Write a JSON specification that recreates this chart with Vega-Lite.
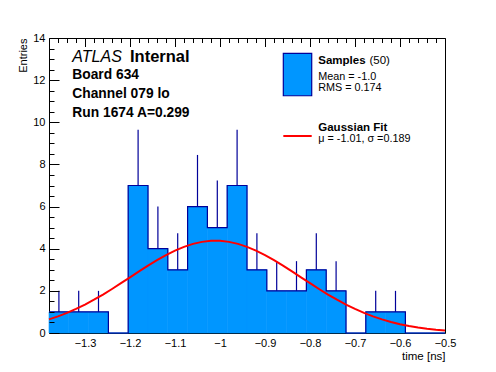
{
  "$schema": "https://vega.github.io/schema/vega-lite/v6.json",
  "width": 396,
  "height": 295,
  "autosize": {"type": "none"},
  "padding": {"left": 49, "top": 38, "right": 51, "bottom": 39},
  "background": "white",
  "config": {
    "view": {"stroke": "black", "strokeWidth": 1},
    "font": "Liberation Sans",
    "text": {"font": "Liberation Sans", "baseline": "alphabetic", "align": "left", "color": "black"}
  },
  "resolve": {"axis": {"x": "independent", "y": "independent"}},
  "datasets": {
    "bins": [
      {"start": -1.38, "end": -1.336, "mid": -1.358, "count": 1, "hi": 2},
      {"start": -1.336, "end": -1.292, "mid": -1.314, "count": 1, "hi": 2},
      {"start": -1.292, "end": -1.248, "mid": -1.27, "count": 1, "hi": 2},
      {"start": -1.248, "end": -1.204, "mid": -1.226, "count": 0, "hi": 0},
      {"start": -1.204, "end": -1.16, "mid": -1.182, "count": 7, "hi": 9.65},
      {"start": -1.16, "end": -1.116, "mid": -1.138, "count": 4, "hi": 6},
      {"start": -1.116, "end": -1.072, "mid": -1.094, "count": 3, "hi": 4.73},
      {"start": -1.072, "end": -1.028, "mid": -1.05, "count": 6, "hi": 8.45},
      {"start": -1.028, "end": -0.984, "mid": -1.006, "count": 5, "hi": 7.24},
      {"start": -0.984, "end": -0.94, "mid": -0.962, "count": 7, "hi": 9.65},
      {"start": -0.94, "end": -0.896, "mid": -0.918, "count": 3, "hi": 4.73},
      {"start": -0.896, "end": -0.852, "mid": -0.874, "count": 2, "hi": 3.41},
      {"start": -0.852, "end": -0.808, "mid": -0.83, "count": 2, "hi": 3.41},
      {"start": -0.808, "end": -0.764, "mid": -0.786, "count": 3, "hi": 4.73},
      {"start": -0.764, "end": -0.72, "mid": -0.742, "count": 2, "hi": 3.41},
      {"start": -0.72, "end": -0.676, "mid": -0.698, "count": 0, "hi": 0},
      {"start": -0.676, "end": -0.632, "mid": -0.654, "count": 1, "hi": 2},
      {"start": -0.632, "end": -0.588, "mid": -0.61, "count": 1, "hi": 2},
      {"start": -0.588, "end": -0.544, "mid": -0.566, "count": 0, "hi": 0},
      {"start": -0.544, "end": -0.5, "mid": -0.522, "count": 0, "hi": 0},
      {"start": -0.5, "end": -0.5, "mid": -0.5, "count": 0, "hi": 0}
    ],
    "fit": [
      {"x": -1.38, "y": 0.645}, {"x": -1.36, "y": 0.788}, {"x": -1.34, "y": 0.954},
      {"x": -1.32, "y": 1.141}, {"x": -1.3, "y": 1.349}, {"x": -1.28, "y": 1.579},
      {"x": -1.26, "y": 1.826}, {"x": -1.24, "y": 2.089}, {"x": -1.22, "y": 2.363},
      {"x": -1.2, "y": 2.643}, {"x": -1.18, "y": 2.923}, {"x": -1.16, "y": 3.197},
      {"x": -1.14, "y": 3.457}, {"x": -1.12, "y": 3.698}, {"x": -1.1, "y": 3.911},
      {"x": -1.08, "y": 4.09}, {"x": -1.06, "y": 4.229}, {"x": -1.04, "y": 4.325},
      {"x": -1.02, "y": 4.374}, {"x": -1.0, "y": 4.374}, {"x": -0.98, "y": 4.325},
      {"x": -0.96, "y": 4.229}, {"x": -0.94, "y": 4.09}, {"x": -0.92, "y": 3.911},
      {"x": -0.9, "y": 3.698}, {"x": -0.88, "y": 3.457}, {"x": -0.86, "y": 3.197},
      {"x": -0.84, "y": 2.923}, {"x": -0.82, "y": 2.643}, {"x": -0.8, "y": 2.363},
      {"x": -0.78, "y": 2.089}, {"x": -0.76, "y": 1.826}, {"x": -0.74, "y": 1.579},
      {"x": -0.72, "y": 1.349}, {"x": -0.7, "y": 1.141}, {"x": -0.68, "y": 0.954},
      {"x": -0.66, "y": 0.788}, {"x": -0.64, "y": 0.645}, {"x": -0.62, "y": 0.521},
      {"x": -0.6, "y": 0.417}, {"x": -0.58, "y": 0.329}, {"x": -0.56, "y": 0.257},
      {"x": -0.54, "y": 0.199}, {"x": -0.52, "y": 0.152}, {"x": -0.5, "y": 0.115}
    ],
    "one": [{}]
  },
  "layer": [
    {
      "data": {"name": "bins"},
      "mark": {"type": "rect", "fill": "#0096ff", "stroke": "#0096ff", "strokeWidth": 0.6},
      "encoding": {
        "x": {
          "field": "start", "type": "quantitative",
          "scale": {"domain": [-1.38, -0.5], "nice": false, "zero": false},
          "axis": {
            "orient": "bottom",
            "title": "time [ns]",
            "titleAnchor": "end",
            "titleFontWeight": "normal",
            "titleFontSize": 11.5,
            "titleColor": "black",
            "titlePadding": 2,
            "values": [-1.3, -1.2, -1.1, -1, -0.9, -0.8, -0.7, -0.6, -0.5],
            "labelExpr": "replace(format(datum.value, '~g'), '-', '\u2212')",
            "ticks": false,
            "domain": false,
            "grid": true,
            "gridColor": "#000000",
            "gridOpacity": 1,
            "gridWidth": 1,
            "gridDash": [8.5, 1000],
            "labelFontSize": 11,
            "labelColor": "black",
            "labelPadding": 4,
            "labelOverlap": false,
            "labelFlush": false,
            "labelBound": false,
            "zindex": 2
          }
        },
        "x2": {"field": "end"},
        "y": {
          "field": "count", "type": "quantitative",
          "scale": {"domain": [0, 14], "nice": false},
          "axis": {
            "orient": "left",
            "title": "Entries",
            "titleAnchor": "end",
            "titleFontWeight": "normal",
            "titleFontSize": 11,
            "titleColor": "black",
            "titlePadding": 4,
            "values": [0, 2, 4, 6, 8, 10, 12, 14],
            "ticks": false,
            "domain": false,
            "grid": true,
            "gridColor": "#000000",
            "gridOpacity": 1,
            "gridWidth": 1,
            "gridDash": [10, 1000],
            "labelFontSize": 11,
            "labelColor": "black",
            "labelPadding": 4,
            "labelOverlap": false,
            "labelFlush": false,
            "labelBound": false,
            "zindex": 2
          }
        },
        "y2": {"datum": 0}
      }
    },
    {
      "data": {"name": "bins"},
      "transform": [{"filter": "datum.count > 0"}],
      "mark": {"type": "rule", "color": "#000099", "strokeWidth": 1.2},
      "encoding": {
        "x": {
          "field": "mid", "type": "quantitative",
          "axis": {
            "orient": "bottom",
            "title": null,
            "values": [-1.38,-1.36,-1.34,-1.32,-1.28,-1.26,-1.24,-1.22,-1.18,-1.16,-1.14,-1.12,-1.08,-1.06,-1.04,-1.02,-0.98,-0.96,-0.94,-0.92,-0.88,-0.86,-0.84,-0.82,-0.78,-0.76,-0.74,-0.72,-0.68,-0.66,-0.64,-0.62,-0.58,-0.56,-0.54,-0.52],
            "labels": false,
            "domain": false,
            "ticks": false,
            "grid": true,
            "gridColor": "#000000",
            "gridOpacity": 1,
            "gridWidth": 1,
            "gridDash": [4.5, 1000],
            "zindex": 2
          }
        },
        "y": {
          "field": "count", "type": "quantitative",
          "axis": {
            "orient": "left",
            "title": null,
            "values": [0.5,1,1.5,2.5,3,3.5,4.5,5,5.5,6.5,7,7.5,8.5,9,9.5,10.5,11,11.5,12.5,13,13.5],
            "labels": false,
            "domain": false,
            "ticks": false,
            "grid": true,
            "gridColor": "#000000",
            "gridOpacity": 1,
            "gridWidth": 1,
            "gridDash": [5, 1000],
            "zindex": 2
          }
        },
        "y2": {"field": "hi"}
      }
    },
    {
      "data": {"name": "bins"},
      "mark": {"type": "line", "interpolate": "step-after", "color": "#000099", "strokeWidth": 1.2},
      "encoding": {
        "x": {"field": "start", "type": "quantitative", "axis": null},
        "y": {"field": "count", "type": "quantitative", "axis": null}
      }
    },
    {
      "data": {"name": "fit"},
      "mark": {"type": "line", "color": "#ff0000", "strokeWidth": 2},
      "encoding": {
        "x": {"field": "x", "type": "quantitative", "axis": null},
        "y": {"field": "y", "type": "quantitative", "axis": null}
      }
    },
    {
      "data": {"name": "one"},
      "mark": {"type": "text", "text": "ATLAS", "fontStyle": "italic", "fontSize": 16},
      "encoding": {"x": {"datum": -1.3282, "type": "quantitative", "axis": null}, "y": {"datum": 12.85, "type": "quantitative", "axis": null}}
    },
    {
      "data": {"name": "one"},
      "mark": {"type": "text", "text": "Internal", "fontWeight": "bold", "fontSize": 16.5},
      "encoding": {"x": {"datum": -1.2, "type": "quantitative", "axis": null}, "y": {"datum": 12.85, "type": "quantitative", "axis": null}}
    },
    {
      "data": {"name": "one"},
      "mark": {"type": "text", "text": "Board 634", "fontWeight": "bold", "fontSize": 13.8},
      "encoding": {"x": {"datum": -1.3282, "type": "quantitative", "axis": null}, "y": {"datum": 12.055, "type": "quantitative", "axis": null}}
    },
    {
      "data": {"name": "one"},
      "mark": {"type": "text", "text": "Channel 079 lo", "fontWeight": "bold", "fontSize": 13.8},
      "encoding": {"x": {"datum": -1.3282, "type": "quantitative", "axis": null}, "y": {"datum": 11.17, "type": "quantitative", "axis": null}}
    },
    {
      "data": {"name": "one"},
      "mark": {"type": "text", "text": "Run 1674 A=0.299", "fontWeight": "bold", "fontSize": 13.8},
      "encoding": {"x": {"datum": -1.3282, "type": "quantitative", "axis": null}, "y": {"datum": 10.27, "type": "quantitative", "axis": null}}
    },
    {
      "data": {"name": "one"},
      "mark": {"type": "rect", "fill": "#0096ff", "stroke": "#000099", "strokeWidth": 1.2},
      "encoding": {
        "x": {"datum": -0.8593, "type": "quantitative", "axis": null},
        "x2": {"datum": -0.7962},
        "y": {"datum": 11.26, "type": "quantitative", "axis": null},
        "y2": {"datum": 13.27}
      }
    },
    {
      "data": {"name": "one"},
      "mark": {"type": "text", "text": "Samples", "fontWeight": "bold", "fontSize": 11.5},
      "encoding": {"x": {"datum": -0.7816, "type": "quantitative", "axis": null}, "y": {"datum": 12.77, "type": "quantitative", "axis": null}}
    },
    {
      "data": {"name": "one"},
      "mark": {"type": "text", "text": "(50)", "fontSize": 11.5},
      "encoding": {"x": {"datum": -0.668, "type": "quantitative", "axis": null}, "y": {"datum": 12.77, "type": "quantitative", "axis": null}}
    },
    {
      "data": {"name": "one"},
      "mark": {"type": "text", "text": "Mean = -1.0", "fontSize": 10.8},
      "encoding": {"x": {"datum": -0.7816, "type": "quantitative", "axis": null}, "y": {"datum": 12.0, "type": "quantitative", "axis": null}}
    },
    {
      "data": {"name": "one"},
      "mark": {"type": "text", "text": "RMS = 0.174", "fontSize": 10.8},
      "encoding": {"x": {"datum": -0.7816, "type": "quantitative", "axis": null}, "y": {"datum": 11.5, "type": "quantitative", "axis": null}}
    },
    {
      "data": {"name": "one"},
      "mark": {"type": "rule", "color": "#ff0000", "strokeWidth": 2},
      "encoding": {
        "x": {"datum": -0.8593, "type": "quantitative", "axis": null},
        "x2": {"datum": -0.7962},
        "y": {"datum": 9.35, "type": "quantitative", "axis": null}
      }
    },
    {
      "data": {"name": "one"},
      "mark": {"type": "text", "text": "Gaussian Fit", "fontWeight": "bold", "fontSize": 11.5},
      "encoding": {"x": {"datum": -0.7816, "type": "quantitative", "axis": null}, "y": {"datum": 9.58, "type": "quantitative", "axis": null}}
    },
    {
      "data": {"name": "one"},
      "mark": {"type": "text", "text": "μ = -1.01, σ =0.189", "fontSize": 10.8},
      "encoding": {"x": {"datum": -0.7816, "type": "quantitative", "axis": null}, "y": {"datum": 9.06, "type": "quantitative", "axis": null}}
    }
  ]
}
